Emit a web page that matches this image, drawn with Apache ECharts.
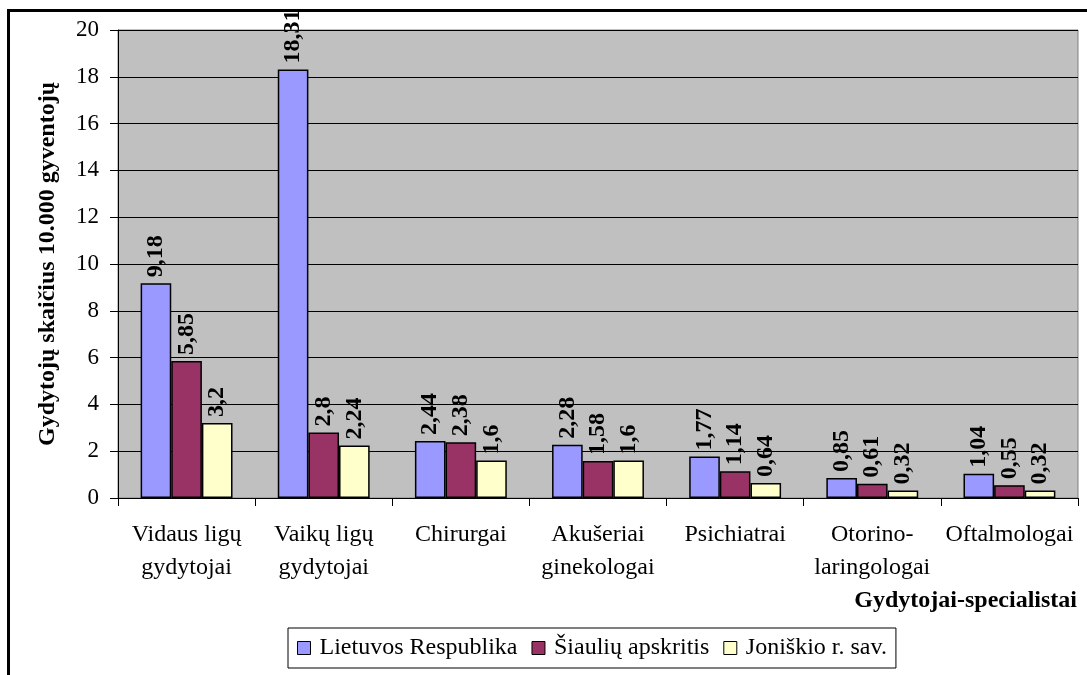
<!DOCTYPE html>
<html>
<head>
<meta charset="utf-8">
<script src="https://cdn.jsdelivr.net/npm/echarts@6/dist/echarts.min.js"></script>
<style>html,body{margin:0;padding:0;background:#fff;}#c{width:1087px;height:675px;}</style>
</head>
<body>
<div id="c"></div>
<script>
const categories = ['Vidaus ligų\ngydytojai', 'Vaikų ligų\ngydytojai', 'Chirurgai', 'Akušeriai\nginekologai', 'Psichiatrai', 'Otorino-\nlaringologai', 'Oftalmologai'];
const seriesNames = ['Lietuvos Respublika', 'Šiaulių apskritis', 'Joniškio r. sav.'];
const lietuvos = [9.18, 18.31, 2.44, 2.28, 1.77, 0.85, 1.04];
const siauliu = [5.85, 2.8, 2.38, 1.58, 1.14, 0.61, 0.55];
const joniskio = [3.2, 2.24, 1.6, 1.6, 0.64, 0.32, 0.32];
const colors = ['#9999FF', '#993366', '#FFFFCC'];
const yTicks = { min: 0, max: 20, interval: 2 };

const FONT = 'Liberation Serif';
const chart = echarts.init(document.getElementById('c'), null, { renderer: 'canvas' });

function mkSeries(name, data, color) {
  return {
    name: name,
    type: 'bar',
    data: data,
    barGap: '0%',
    barCategoryGap: '33%',
    itemStyle: { color: color, borderColor: '#000', borderWidth: 1.5 },
    label: {
      show: true,
      position: 'top',
      rotate: 90,
      align: 'left',
      verticalAlign: 'middle',
      distance: 6,
      fontFamily: FONT,
      fontWeight: 'bold',
      fontSize: 24,
      color: '#000',
      formatter: p => String(p.value).replace('.', ',')
    }
  };
}

chart.setOption({
  animation: false,
  backgroundColor: '#fff',
  textStyle: { fontFamily: FONT, color: '#000' },
  grid: {
    left: 118, right: 9, top: 30, bottom: 177,
    show: true, backgroundColor: '#C0C0C0', borderColor: '#808080', borderWidth: 1
  },
  legend: {
    left: 288, top: 628,
    data: seriesNames,
    icon: 'rect',
    itemWidth: 13, itemHeight: 13, itemGap: 14,
    padding: [8, 9],
    borderColor: '#000', borderWidth: 1,
    backgroundColor: '#fff',
    itemStyle: { borderColor: '#000', borderWidth: 1 },
    textStyle: { fontFamily: FONT, fontSize: 24, color: '#000', padding: [0, 0, 0, 4] }
  },
  xAxis: {
    type: 'category',
    data: categories,
    axisLine: { show: true, lineStyle: { color: '#000', width: 1 } },
    axisTick: { show: true, length: 8, alignWithLabel: false, lineStyle: { color: '#000' } },
    axisLabel: { fontFamily: FONT, fontSize: 24, color: '#000', lineHeight: 33, margin: 20, interval: 0 }
  },
  yAxis: {
    type: 'value',
    min: yTicks.min, max: yTicks.max, interval: yTicks.interval,
    name: 'Gydytojų skaičius 10.000 gyventojų',
    nameLocation: 'middle',
    nameGap: 58,
    nameTextStyle: { fontFamily: FONT, fontWeight: 'bold', fontSize: 24, color: '#000' },
    axisLine: { show: true, lineStyle: { color: '#000', width: 1 } },
    axisTick: { show: true, length: 8, lineStyle: { color: '#000' } },
    axisLabel: { fontFamily: FONT, fontSize: 23, color: '#000', margin: 19 },
    splitLine: { show: true, lineStyle: { color: '#000', width: 1 } }
  },
  graphic: [
    {
      type: 'rect',
      shape: { x: 8.5, y: 10.5, width: 1100, height: 700 },
      style: { fill: 'none', stroke: '#000', lineWidth: 3 },
      silent: true, z: 100
    },
    {
      type: 'text',
      right: 10, top: 589,
      style: { text: 'Gydytojai-specialistai', fontFamily: FONT, fontWeight: 'bold', fontSize: 24, fill: '#000' }
    }
  ],
  series: [
    mkSeries(seriesNames[0], lietuvos, colors[0]),
    mkSeries(seriesNames[1], siauliu, colors[1]),
    mkSeries(seriesNames[2], joniskio, colors[2])
  ]
});
</script>
</body>
</html>
